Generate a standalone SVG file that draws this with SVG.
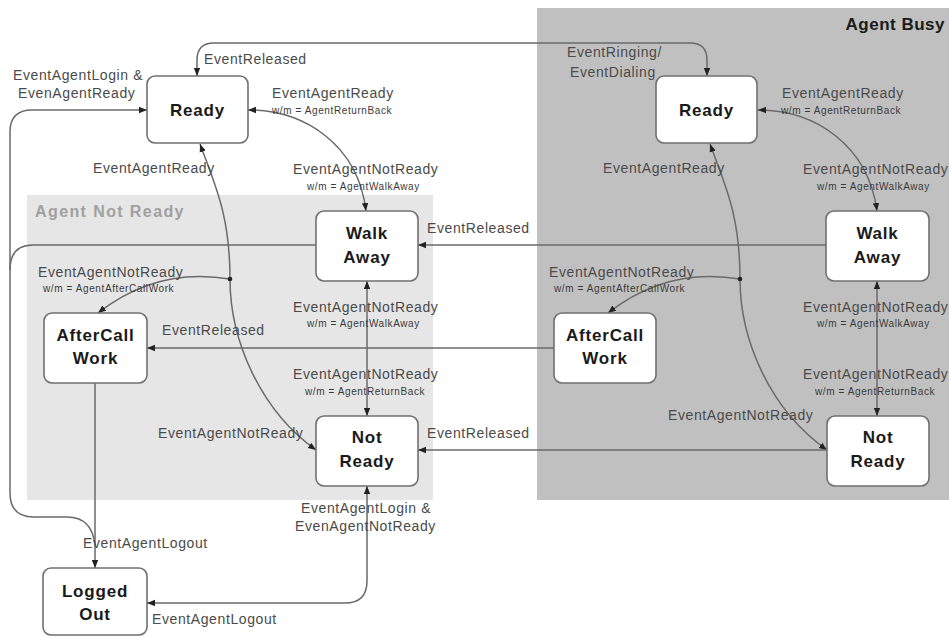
<svg xmlns="http://www.w3.org/2000/svg" width="949" height="637" viewBox="0 0 949 637">
<defs>
<style>
.bgB{fill:#c0c0c0}
.bgN{fill:#e6e6e6}
.node rect{fill:#fff;stroke:#707070;stroke-width:1.6}
.node text{font-family:"Liberation Sans",Arial,sans-serif;font-weight:bold;font-size:17px;fill:#1a1a1a;text-anchor:middle;letter-spacing:0.8px}
.c{fill:none;stroke:#6a6a6a;stroke-width:1.5}
.lb{font-family:"Liberation Sans",Arial,sans-serif;font-size:14px;fill:#4a4a4a;letter-spacing:0.6px}
.sm{font-family:"Liberation Sans",Arial,sans-serif;font-size:10px;fill:#3a3a3a;letter-spacing:0.6px}
.grp{font-family:"Liberation Sans",Arial,sans-serif;font-weight:bold}
</style>
<marker id="ah" viewBox="0 0 10 10" refX="10" refY="5" markerWidth="8" markerHeight="8" markerUnits="userSpaceOnUse" orient="auto-start-reverse">
<path d="M0,1 L10,5 L0,9 z" fill="#222"/>
</marker>
</defs>
<rect width="949" height="637" fill="#fff"/>
<g id="group-agent-busy">
<rect class="bgB" x="537" y="8" width="412" height="492"/>
<text class="grp" x="945" y="30" font-size="17" fill="#1a1a1a" text-anchor="end" letter-spacing="0.5">Agent Busy</text>
</g>
<g id="group-agent-not-ready">
<rect class="bgN" x="27" y="195" width="406" height="305"/>
<text class="grp" x="35" y="217" font-size="16" fill="#a0a0a0" letter-spacing="1.4">Agent Not Ready</text>
</g>
<g id="connectors">
<path class="c" d="M197,76 V60 Q197,43 214,43 H690 Q707,43 707,60 V76" marker-start="url(#ah)" marker-end="url(#ah)"/>
<path class="c" d="M147,110 H32 Q10,110 10,132 V493 Q10,517 34,517 H67 Q92,517 95,545" marker-start="url(#ah)"/>
<path class="c" d="M316,245 H33 Q10,245 10,270"/>
<path class="c" d="M95,383 V568" marker-end="url(#ah)"/>
<path class="c" d="M147,603 H345 Q367,603 367,581 V486" marker-start="url(#ah)" marker-end="url(#ah)"/>
<path class="c" d="M248,110 C305,110 358,145 366,211" marker-start="url(#ah)" marker-end="url(#ah)"/>
<path class="c" d="M758,110 C815,110 868,145 877,211" marker-start="url(#ah)" marker-end="url(#ah)"/>
<path class="c" d="M200,144 C215,185 230,215 230,279 C230,340 260,410 316,450" marker-start="url(#ah)" marker-end="url(#ah)"/>
<path class="c" d="M710,144 C725,185 740,215 740,279 C740,340 770,410 827,450" marker-start="url(#ah)" marker-end="url(#ah)"/>
<path class="c" d="M230,279 C200,274 150,272 98,313" marker-end="url(#ah)"/>
<path class="c" d="M740,279 C710,274 660,272 608,313" marker-end="url(#ah)"/>
<circle cx="230" cy="279" r="2.3" fill="#222"/>
<circle cx="740" cy="279" r="2.3" fill="#222"/>
<path class="c" d="M367,281 V416" marker-start="url(#ah)" marker-end="url(#ah)"/>
<path class="c" d="M877,281 V416" marker-start="url(#ah)" marker-end="url(#ah)"/>
<path class="c" d="M826,245 H418" marker-end="url(#ah)"/>
<path class="c" d="M554,348 H147" marker-end="url(#ah)"/>
<path class="c" d="M827,450 H418" marker-end="url(#ah)"/>
</g>
<g id="labels">
<text class="lb" x="204" y="64">EventReleased</text>
<text class="lb" x="567" y="57">EventRinging/</text>
<text class="lb" x="570" y="77">EventDialing</text>
<text class="lb" x="13" y="80">EventAgentLogin &amp;</text>
<text class="lb" x="18" y="98">EvenAgentReady</text>
<text class="lb" x="272" y="98">EventAgentReady</text>
<text class="sm" x="272" y="114">w/m = AgentReturnBack</text>
<text class="lb" x="782" y="98">EventAgentReady</text>
<text class="sm" x="781" y="114">w/m = AgentReturnBack</text>
<text class="lb" x="93" y="173">EventAgentReady</text>
<text class="lb" x="603" y="173">EventAgentReady</text>
<text class="lb" x="293" y="174">EventAgentNotReady</text>
<text class="sm" x="307" y="190">w/m = AgentWalkAway</text>
<text class="lb" x="803" y="174">EventAgentNotReady</text>
<text class="sm" x="817" y="190">w/m = AgentWalkAway</text>
<text class="lb" x="427" y="233">EventReleased</text>
<text class="lb" x="38" y="277">EventAgentNotReady</text>
<text class="sm" x="43" y="292">w/m = AgentAfterCallWork</text>
<text class="lb" x="549" y="277">EventAgentNotReady</text>
<text class="sm" x="554" y="292">w/m = AgentAfterCallWork</text>
<text class="lb" x="293" y="312">EventAgentNotReady</text>
<text class="sm" x="307" y="327">w/m = AgentWalkAway</text>
<text class="lb" x="803" y="312">EventAgentNotReady</text>
<text class="sm" x="817" y="327">w/m = AgentWalkAway</text>
<text class="lb" x="162" y="335">EventReleased</text>
<text class="lb" x="293" y="379">EventAgentNotReady</text>
<text class="sm" x="305" y="395">w/m = AgentReturnBack</text>
<text class="lb" x="803" y="379">EventAgentNotReady</text>
<text class="sm" x="815" y="395">w/m = AgentReturnBack</text>
<text class="lb" x="668" y="420">EventAgentNotReady</text>
<text class="lb" x="158" y="438">EventAgentNotReady</text>
<text class="lb" x="427" y="438">EventReleased</text>
<text class="lb" x="301" y="513">EventAgentLogin &amp;</text>
<text class="lb" x="295" y="531">EvenAgentNotReady</text>
<text class="lb" x="83" y="548">EventAgentLogout</text>
<text class="lb" x="152" y="624">EventAgentLogout</text>
</g>
<g id="node-ready-left" class="node"><rect x="147" y="76" width="101" height="67" rx="8"/><text x="197.5" y="116">Ready</text></g>
<g id="node-ready-right" class="node"><rect x="656" y="76" width="101" height="67" rx="8"/><text x="706.5" y="116">Ready</text></g>
<g id="node-walkaway-left" class="node"><rect x="316" y="211" width="102" height="70" rx="8"/><text x="367" y="239">Walk</text><text x="367" y="263">Away</text></g>
<g id="node-walkaway-right" class="node"><rect x="826" y="211" width="103" height="70" rx="8"/><text x="877.5" y="239">Walk</text><text x="877.5" y="263">Away</text></g>
<g id="node-aftercall-left" class="node"><rect x="44" y="313" width="103" height="70" rx="8"/><text x="95.5" y="341">AfterCall</text><text x="95.5" y="364">Work</text></g>
<g id="node-aftercall-right" class="node"><rect x="554" y="313" width="102" height="70" rx="8"/><text x="605" y="341">AfterCall</text><text x="605" y="364">Work</text></g>
<g id="node-notready-left" class="node"><rect x="316" y="416" width="102" height="70" rx="8"/><text x="367" y="443">Not</text><text x="367" y="467">Ready</text></g>
<g id="node-notready-right" class="node"><rect x="827" y="416" width="102" height="70" rx="8"/><text x="878" y="443">Not</text><text x="878" y="467">Ready</text></g>
<g id="node-loggedout" class="node"><rect x="43" y="568" width="104" height="67" rx="8"/><text x="95" y="597">Logged</text><text x="95" y="620">Out</text></g>
</svg>
